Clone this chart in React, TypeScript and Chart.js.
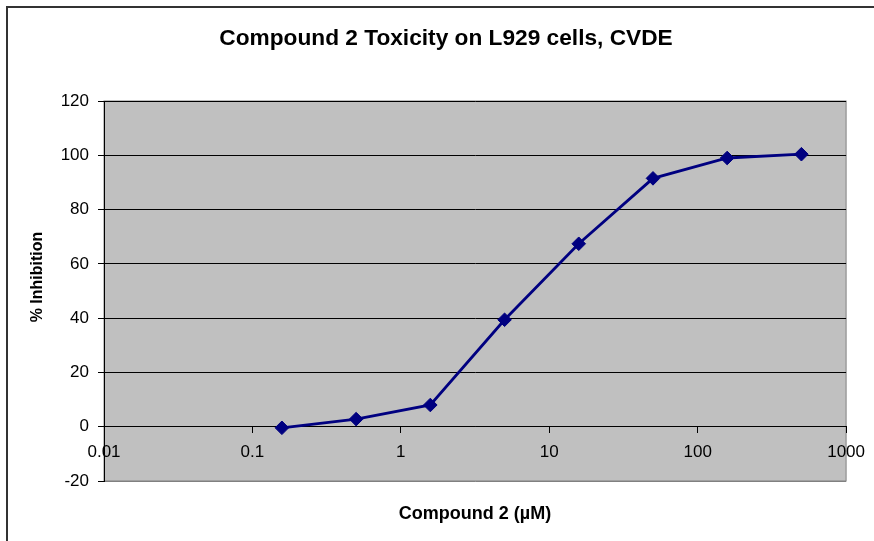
import React, { useEffect, useRef } from 'react';
import { Chart, registerables } from 'chart.js';

Chart.register(...registerables);

const concentrations = [0.158, 0.5, 1.58, 5, 15.8, 50, 158, 500];
const inhibition = [-0.4, 2.8, 8.0, 39.4, 67.4, 91.5, 99.0, 100.4];
const xTickValues = [0.01, 0.1, 1, 10, 100, 1000];
const yMin = -20;
const yMax = 120;
const yStep = 20;
const chartTitle = 'Compound 2 Toxicity on L929 cells, CVDE';
const xTitle = 'Compound 2 (\u00b5M)';
const yTitle = '% Inhibition';

const FONT = '"Liberation Sans", Arial, Helvetica, sans-serif';

const decorPlugin = {
  id: 'decor',
  beforeDraw(chart: any) {
    const { ctx, chartArea } = chart;
    ctx.save();
    ctx.fillStyle = '#ffffff';
    ctx.fillRect(0, 0, chart.width, chart.height);
    ctx.fillStyle = '#c0c0c0';
    ctx.fillRect(chartArea.left, chartArea.top, chartArea.right - chartArea.left, chartArea.bottom - chartArea.top);
    ctx.strokeStyle = '#808080';
    ctx.lineWidth = 1;
    ctx.strokeRect(chartArea.left, chartArea.top, chartArea.right - chartArea.left, chartArea.bottom - chartArea.top);
    ctx.restore();
  },
  afterDraw(chart: any) {
    const { ctx } = chart;
    ctx.save();
    // outer frame
    ctx.strokeStyle = '#333333';
    ctx.lineWidth = 2;
    ctx.beginPath();
    ctx.moveTo(7, chart.height + 5);
    ctx.lineTo(7, 7);
    ctx.lineTo(chart.width + 5, 7);
    ctx.stroke();
    // texts
    ctx.fillStyle = '#000';
    ctx.textAlign = 'center';
    ctx.textBaseline = 'middle';
    ctx.font = `bold 22.7px ${FONT}`;
    ctx.fillText(chartTitle, 446, 39);
    ctx.font = `bold 18px ${FONT}`;
    ctx.fillText(xTitle, 475, 514);
    ctx.font = `bold 16px ${FONT}`;
    ctx.translate(38, 277);
    ctx.rotate(-Math.PI / 2);
    ctx.fillText(yTitle, 0, 0);
    ctx.restore();
  },
};

export default function App() {
  const canvasRef = useRef<HTMLCanvasElement | null>(null);

  useEffect(() => {
    document.body.style.margin = '0';
    const canvas = canvasRef.current;
    if (!canvas) return;
    const chart = new Chart(canvas, {
      type: 'line',
      data: {
        datasets: [
          {
            data: concentrations.map((c, i) => ({ x: c, y: inhibition[i] })),
            borderColor: '#000080',
            backgroundColor: '#000080',
            borderWidth: 2.8,
            pointStyle: 'rectRot',
            pointRadius: 6.8,
            pointBorderWidth: 1,
            pointBackgroundColor: '#000080',
            pointBorderColor: '#000080',
            tension: 0,
            clip: false as any,
          },
        ],
      },
      options: {
        animation: false,
        responsive: false,
        maintainAspectRatio: false,
        devicePixelRatio: 1,
        layout: { padding: { left: 0, top: 101, right: 27.5, bottom: 60 } },
        plugins: {
          legend: { display: false },
          title: { display: false },
          tooltip: { enabled: false },
        },
        scales: {
          x: {
            type: 'logarithmic',
            min: 0.01,
            max: 1000,
            position: { y: 0 } as any,
            afterBuildTicks: (scale: any) => {
              scale.ticks = xTickValues.map((v) => ({ value: v }));
            },
            ticks: {
              autoSkip: false,
              maxRotation: 0,
              minRotation: 0,
              padding: 9,
              color: '#000',
              font: { family: FONT, size: 17 },
              callback: (v: any) => String(v),
            },
            grid: {
              drawOnChartArea: false,
              drawTicks: true,
              tickLength: 6,
              color: '#000',
            },
            border: { display: true, color: '#000', width: 1 },
          },
          y: {
            type: 'linear',
            min: yMin,
            max: yMax,
            afterFit: (scale: any) => {
              scale.width = 104;
            },
            ticks: {
              stepSize: yStep,
              padding: 9,
              color: '#000',
              font: { family: FONT, size: 17 },
            },
            grid: {
              color: (ctx: any) => (ctx.tick && ctx.tick.value === yMin ? '#808080' : '#000'),
              tickColor: '#000',
              lineWidth: 1,
              drawTicks: true,
              tickLength: 6,
            },
            border: { display: true, color: '#000', width: 1 },
          },
        },
      },
      plugins: [decorPlugin],
    });
    return () => chart.destroy();
  }, []);

  return (
    <div style={{ position: 'fixed', left: 0, top: 0, width: 874, height: 541 }}>
      <canvas ref={canvasRef} width={874} height={541} style={{ width: 874, height: 541, display: 'block' }} />
    </div>
  );
}
